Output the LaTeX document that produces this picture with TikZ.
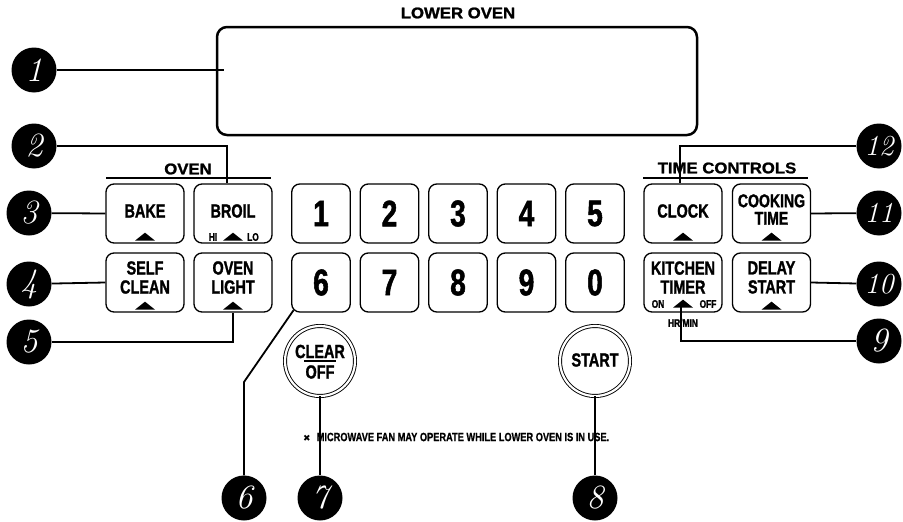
\documentclass[tikz,border=0pt]{standalone}
\usepackage{fontspec}
\newfontfamily\condf[FakeStretch=0.76,FakeBold=1.4]{Liberation Sans Bold}
\newfontfamily\notef[FakeStretch=0.77,FakeBold=0.8]{Liberation Sans Bold}
\newfontfamily\headf[FakeStretch=1.08,FakeBold=1.4]{Liberation Sans Bold}
\newfontfamily\symf{DejaVu Sans}
\begin{document}
\begin{tikzpicture}[x=1pt,y=-1pt,
  btn/.style={draw, line width=1.3pt, rounded corners=8pt, minimum width=78pt, minimum height=59pt, inner sep=0pt},
  keybox/.style={btn, minimum width=58.5pt, font=\condf\fontsize{37}{37}\selectfont},
  lbl/.style={font=\condf\fontsize{19}{19}\selectfont, align=center, inner sep=0pt},
  small/.style={font=\condf\fontsize{11}{11}\selectfont, inner sep=0pt},
  head/.style={font=\headf\fontsize{15.5}{15.5}\selectfont, inner sep=0pt},
  callout/.style={circle, fill=black, minimum size=45pt, inner sep=0pt, text=white, font=\fontsize{34}{34}\selectfont\itshape},
  callout2/.style={callout, font=\fontsize{29}{29}\selectfont\itshape},
  conn/.style={line width=1.8pt},
  round/.style={circle, draw, double, double distance=2.2pt, line width=0.9pt, minimum size=70pt, inner sep=0pt},
  tri/.pic={\fill (-10,0) -- (10,0) -- (0,-8) -- cycle;}
]
\useasboundingbox (0,0) rectangle (903,522);

% display
\node[head] (lower) at (458,13) {LOWER OVEN};
\node[draw, line width=2.5pt, rounded corners=10pt, minimum width=480pt, minimum height=108pt] (disp) at (457,81) {};

% headings
\node[head] (ovenh) at (188,169) {OVEN};
\draw[line width=1.2pt] (106,178) coordinate (oul) -- (271,178) coordinate (our);
\node[head] (timeh) at (727,168) {TIME CONTROLS};
\draw[line width=1.2pt] (643,178) coordinate (tul) -- (808,178) coordinate (tur);

% oven buttons
\node[btn] (bake) at (145,213.5) {};
\node[lbl] (tbake) at ([yshift=2.5pt]bake.center) {BAKE};
\pic at ([yshift=3pt]bake.south) {tri};
\node[btn] (broil) at (233,213.5) {};
\node[lbl] (tbroil) at ([yshift=2.5pt]broil.center) {BROIL};
\pic at ([yshift=3pt]broil.south) {tri};
\node[small] (hi) at (213,237) {HI};
\node[small] (lo) at (253,237) {LO};
\node[btn] (self) at (145,282.5) {};
\node[lbl] (tself) at ([yshift=5pt]self.center) {SELF\\CLEAN};
\pic at ([yshift=3pt]self.south) {tri};
\node[btn] (light) at (233,282.5) {};
\node[lbl] (tlight) at ([yshift=5pt]light.center) {OVEN\\LIGHT};
\pic at ([yshift=3pt]light.south) {tri};

% number keys
\node[keybox] (k1) at (321,213.5) {1};
\node[keybox] (k2) at (389.5,213.5) {2};
\node[keybox] (k3) at (458,213.5) {3};
\node[keybox] (k4) at (526.5,213.5) {4};
\node[keybox] (k5) at (595,213.5) {5};
\node[keybox] (k6) at (321,282.5) {6};
\node[keybox] (k7) at (389.5,282.5) {7};
\node[keybox] (k8) at (458,282.5) {8};
\node[keybox] (k9) at (526.5,282.5) {9};
\node[keybox] (k0) at (595,282.5) {0};

% time buttons
\node[btn] (clock) at (683,213.5) {};
\node[lbl] (tclock) at ([yshift=2.5pt]clock.center) {CLOCK};
\pic at ([yshift=3pt]clock.south) {tri};
\node[btn] (cook) at (771.5,213.5) {};
\node[lbl, font=\condf\fontsize{18.5}{17.5}\selectfont] (tcook) at ([yshift=4pt]cook.center) {COOKING\\TIME};
\pic at ([yshift=3pt]cook.south) {tri};
\node[btn] (kitch) at (683,282.5) {};
\node[lbl] (tkitch) at ([yshift=5pt]kitch.center) {KITCHEN\\TIMER};
\pic at ([yshift=5pt]kitch.south) {tri};
\node[small] (on) at (658,304) {ON};
\node[small] (off) at (708,304) {OFF};
\node[small] (hrmin) at (683,323) {HR/MIN};
\node[btn] (delay) at (771.5,282.5) {};
\node[lbl] (tdelay) at ([yshift=5pt]delay.center) {DELAY\\START};
\pic at ([yshift=3pt]delay.south) {tri};

% round buttons
\node[round] (clear) at (320,361) {};
\node[lbl] (tclear) at (320,351.5) {CLEAR};
\draw[line width=1.2pt] (304,361) coordinate (cl1) -- (336,361) coordinate (cl2);
\node[lbl] (toff) at (320,372) {OFF};
\node[round] (start) at (595,361) {};
\node[lbl] (tstart) at (595,360) {START};

% note
\node[anchor=west, inner sep=0pt, font=\notef\fontsize{12}{12}\selectfont] (note) at (303,437) {{\symf\fontsize{9}{9}\selectfont ✖}\hspace{6pt}MICROWAVE FAN MAY OPERATE WHILE LOWER OVEN IS IN USE.};

% callouts
\node[callout] (c1) at (34,70) {1};
\node[callout] (c2) at (34,146) {2};
\node[callout] (c3) at (29,213) {3};
\node[callout] (c4) at (29,284) {4};
\node[callout] (c5) at (29,342) {5};
\node[callout] (c6) at (244,498) {6};
\node[callout] (c7) at (320,498) {7};
\node[callout] (c8) at (595,498) {8};
\node[callout] (c9) at (879,341) {9};
\node[callout2] (c10) at (879,284) {10};
\node[callout2] (c11) at (879,213) {11};
\node[callout2] (c12) at (879,146) {12};

\coordinate (k6c) at ([xshift=2.5pt,yshift=2.5pt]k6.south west);
\coordinate (b6) at (244,382);
\coordinate (t9) at (681,306);

\draw[conn] (c1) -- ([xshift=8pt]disp.west |- c1);
\draw[conn] (c2) -| ([xshift=-6pt]broil.north);
\draw[conn] (c3) -- (bake.west);
\draw[conn] (c4) -- (self.west);
\draw[conn] (c5) -| (light.south);
\draw[conn] (c6) -- (b6) -- (k6c);
\draw[conn] (c7) -- (clear.south);
\draw[conn] (c8) -- (start.south);
\draw[conn] (c9) -| (t9);
\draw[conn] (c10) -- (delay.east);
\draw[conn] (c11) -- (cook.east);
\draw[conn] (c12) -| ([xshift=-3pt]clock.north);
\end{tikzpicture}
\end{document}
